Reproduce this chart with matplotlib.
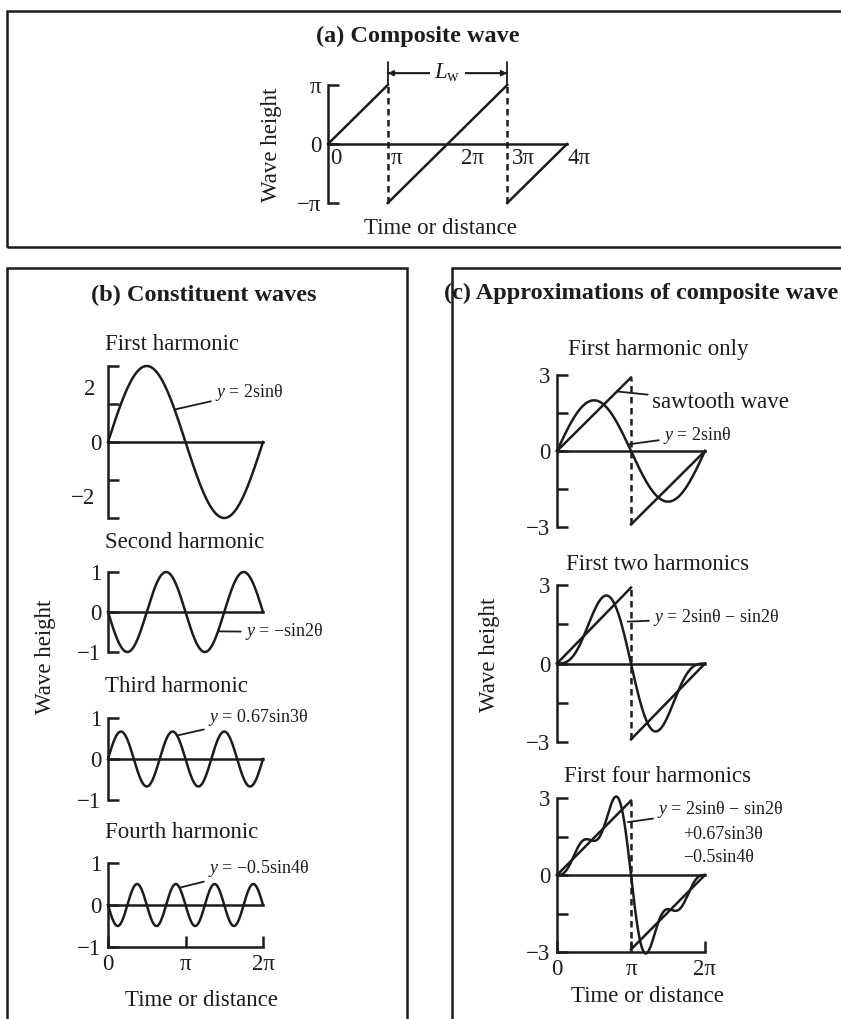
import numpy as np
import matplotlib.pyplot as plt
from matplotlib.patches import Rectangle

plt.rcParams['font.family'] = ['Liberation Serif', 'DejaVu Serif']
plt.rcParams['mathtext.fontset'] = 'custom'
plt.rcParams['mathtext.rm'] = 'Liberation Serif'
plt.rcParams['mathtext.it'] = 'Liberation Serif:italic'

PI = np.pi
W, H = 841, 1019   # output size in pixels
ink = '#1c1c1c'
lw = 1.8
fs = 16.5      # labels
fs_t = 17.5    # panel titles
fs_eq = 13     # equation labels

# ---- values ----
# (a) composite (sawtooth) wave
comp_x = [[0, PI], [PI, 3 * PI], [3 * PI, 4 * PI]]
comp_y = [[0, PI], [-PI, PI], [-PI, 0]]
comp_jumps = [PI, 3 * PI]
comp_xticks = [0, PI, 2 * PI, 3 * PI, 4 * PI]
comp_xlabels = ['0', 'π', '2π', '3π', '4π']
comp_xnudge = [2, 3, 14, 5, 1]          # px, labels sit right of their point
comp_yticks = [-PI, 0, PI]
comp_ylabels = ['−π', '0', 'π']

# (b) constituent waves, y = coef * sin(order * theta)
harm_order = [1, 2, 3, 4]
harm_coef = [2.0, -1.0, 0.67, -0.5]
harm_names = ['First harmonic', 'Second harmonic', 'Third harmonic', 'Fourth harmonic']
harm_eqs = ['$y$ = 2sinθ', '$y$ = −sin2θ', '$y$ = 0.67sin3θ', '$y$ = −0.5sin4θ']
harm_ylim = [2, 1, 1, 1]
harm_yticks = [[-2, -1, 0, 1, 2], [-1, 0, 1], [-1, 0, 1], [-1, 0, 1]]
harm_ylabels = [['', '', '0', '', ''], ['−1', '0', '1'], ['−1', '0', '1'], ['−1', '0', '1']]
harm_anchor = [2.7, 4.46, 2.8, 2.9]     # theta where the label leader meets the curve
harm_textpos = [(4.34, 1.3), (5.55, -0.5), (4.05, 1.02), (4.05, 0.88)]

# (c) approximations: sum of the first n harmonics vs. the sawtooth
approx_terms = [1, 2, 4]
approx_names = ['First harmonic only', 'First two harmonics', 'First four harmonics']
saw_x = [[0, PI], [PI, 2 * PI]]
saw_y = [[0, 2.9], [-2.9, 0]]
approx_yticks = [-3, -1.5, 0, 1.5, 3]
approx_ylabels = ['−3', '', '0', '', '3']

fig = plt.figure(figsize=(W / 100, H / 100), dpi=100)


def px_axes(x0, y0, x1, y1):
    return fig.add_axes([x0 / W, 1 - y1 / H, (x1 - x0) / W, (y1 - y0) / H])


def fig_text(x, y, s, **kw):
    kw.setdefault('ha', 'center')
    kw.setdefault('va', 'center')
    kw.setdefault('color', ink)
    fig.text(x / W, 1 - y / H, s, **kw)


def bracket_axis(ax, yticks, ylabels, bottom=False):
    for side in ['top', 'right']:
        ax.spines[side].set_visible(False)
    ax.spines['bottom'].set_visible(bottom)
    for side in ['left', 'bottom']:
        ax.spines[side].set_linewidth(lw)
        ax.spines[side].set_color(ink)
    ax.set_yticks(yticks, ylabels)
    ax.tick_params(direction='in', length=8, width=lw, colors=ink, labelsize=fs, pad=5)
    if not bottom:
        ax.set_xticks([])
    ax.patch.set_visible(False)
    ax.axhline(0, color=ink, lw=lw, clip_on=False)


def leader(ax, s, xy, xytext, size):
    ax.annotate(s, xy=xy, xytext=xytext, ha='left', va='center', fontsize=size, color=ink,
                annotation_clip=False,
                arrowprops=dict(arrowstyle='-', color=ink, lw=1.3, shrinkA=1, shrinkB=0))


dash = (0, (2.6, 1.8))
theta = np.linspace(0, 2 * PI, 600)

# panel frames
for x0, y0, x1, y1 in [(7, 11, 860, 247), (7, 268, 407, 1030), (452, 268, 860, 1030)]:
    fig.add_artist(Rectangle((x0 / W, 1 - y1 / H), (x1 - x0) / W, (y1 - y0) / H,
                             transform=fig.transFigure, fill=False, ec=ink, lw=1.8))

# ---------------- (a) composite wave ----------------
ax = px_axes(328, 85, 567, 203)
ax.set_xlim(0, 4 * PI)
ax.set_ylim(-PI, PI)
bracket_axis(ax, comp_yticks, comp_ylabels)
for xs, ys in zip(comp_x, comp_y):
    ax.plot(xs, ys, color=ink, lw=lw, clip_on=False)
for xj in comp_jumps:
    ax.plot([xj, xj], [-PI, PI], color=ink, lw=lw, ls=dash, clip_on=False)
for xv, lab, nud in zip(comp_xticks, comp_xlabels, comp_xnudge):
    ax.annotate(lab, (xv, 0), xytext=(nud, -4), textcoords='offset pixels',
                ha='left', va='top', fontsize=fs, color=ink)
ya = 1.2 * PI
for style in ['|-|', '<|-|>']:
    ax.annotate('', xy=(comp_jumps[0], ya), xytext=(comp_jumps[1], ya),
                arrowprops=dict(arrowstyle=style, color=ink, lw=1.3, shrinkA=0, shrinkB=0,
                                mutation_scale=8), annotation_clip=False)
ax.text(2 * PI, ya, '$L_\\mathrm{w}$', ha='center', va='center', fontsize=fs, color=ink,
        bbox=dict(fc='white', ec='none', pad=3))
fig_text(418, 36, '(a) Composite wave', fontsize=fs_t, fontweight='bold')
fig_text(272, 145, 'Wave height', fontsize=fs, rotation=90)
fig_text(440, 228, 'Time or distance', fontsize=fs)

# ---------------- (b) constituent waves ----------------
harm_boxes = [(366, 518), (572, 652), (718, 800), (863, 947)]
harm_title_y = [345, 542, 687, 832]
for i in range(4):
    y0, y1 = harm_boxes[i]
    last = i == 3
    ax = px_axes(108, y0, 263, y1)
    ax.set_xlim(0, 2 * PI)
    ax.set_ylim(-harm_ylim[i], harm_ylim[i])
    bracket_axis(ax, harm_yticks[i], harm_ylabels[i], bottom=last)
    if last:
        ax.set_xticks([0, PI, 2 * PI], ['0', 'π', '2π'])
    wave = harm_coef[i] * np.sin(harm_order[i] * theta)
    ax.plot(theta, wave, color=ink, lw=lw, clip_on=False)
    xa = harm_anchor[i]
    leader(ax, harm_eqs[i], (xa, harm_coef[i] * np.sin(harm_order[i] * xa)),
           harm_textpos[i], fs_eq)
    if i == 0:
        ax.text(-0.08, 1.38, '2', transform=ax.get_yaxis_transform(), ha='right', va='center',
                fontsize=fs, color=ink)
        ax.text(-0.08, -1.48, '−2', transform=ax.get_yaxis_transform(), ha='right', va='center',
                fontsize=fs, color=ink)
    fig_text(105, harm_title_y[i], harm_names[i], fontsize=fs, ha='left')
fig_text(204, 295, '(b) Constituent waves', fontsize=fs_t, fontweight='bold')
fig_text(45, 657, 'Wave height', fontsize=fs, rotation=90)
fig_text(201, 1000, 'Time or distance', fontsize=fs)

# ---------------- (c) approximations ----------------
approx_boxes = [(375, 527), (585, 742), (798, 952)]
approx_title_y = [350, 565, 777]
for i in range(3):
    y0, y1 = approx_boxes[i]
    last = i == 2
    ax = px_axes(557, y0, 705, y1)
    ax.set_xlim(0, 2 * PI)
    ax.set_ylim(-3, 3)
    bracket_axis(ax, approx_yticks, approx_ylabels, bottom=last)
    if last:
        ax.set_xticks([0, PI, 2 * PI], ['0', 'π', '2π'])
    approx = sum(harm_coef[k] * np.sin(harm_order[k] * theta) for k in range(approx_terms[i]))
    ax.plot(theta, approx, color=ink, lw=lw, clip_on=False)
    for xs, ys in zip(saw_x, saw_y):
        ax.plot(xs, ys, color=ink, lw=lw, clip_on=False)
    ax.plot([PI, PI], [saw_y[1][0], saw_y[0][1]], color=ink, lw=lw, ls=dash, clip_on=False)
    fig_text(658, approx_title_y[i], approx_names[i], fontsize=fs)

    if i == 0:
        leader(ax, 'sawtooth wave', (2.55, 2.35), (4.03, 1.93), fs)
        leader(ax, '$y$ = 2sinθ', (3.01, 0.26), (4.5, 0.63), fs_eq)
    elif i == 1:
        leader(ax, '$y$ = 2sinθ − sin2θ', (3.0, 1.6), (4.08, 1.74), fs_eq)
    else:
        leader(ax, '$y$ = 2sinθ − sin2θ', (3.01, 2.06), (4.25, 2.57), fs_eq)
        ax.text(5.35, 1.56, '+0.67sin3θ', ha='left', va='center', fontsize=fs_eq, color=ink)
        ax.text(5.35, 0.70, '−0.5sin4θ', ha='left', va='center', fontsize=fs_eq, color=ink)
fig_text(444, 293, '(c) Approximations of composite wave', fontsize=fs_t,
         fontweight='bold', ha='left')
fig_text(489, 655, 'Wave height', fontsize=fs, rotation=90)
fig_text(647, 997, 'Time or distance', fontsize=fs)

fig.savefig('out.png', dpi=100)
